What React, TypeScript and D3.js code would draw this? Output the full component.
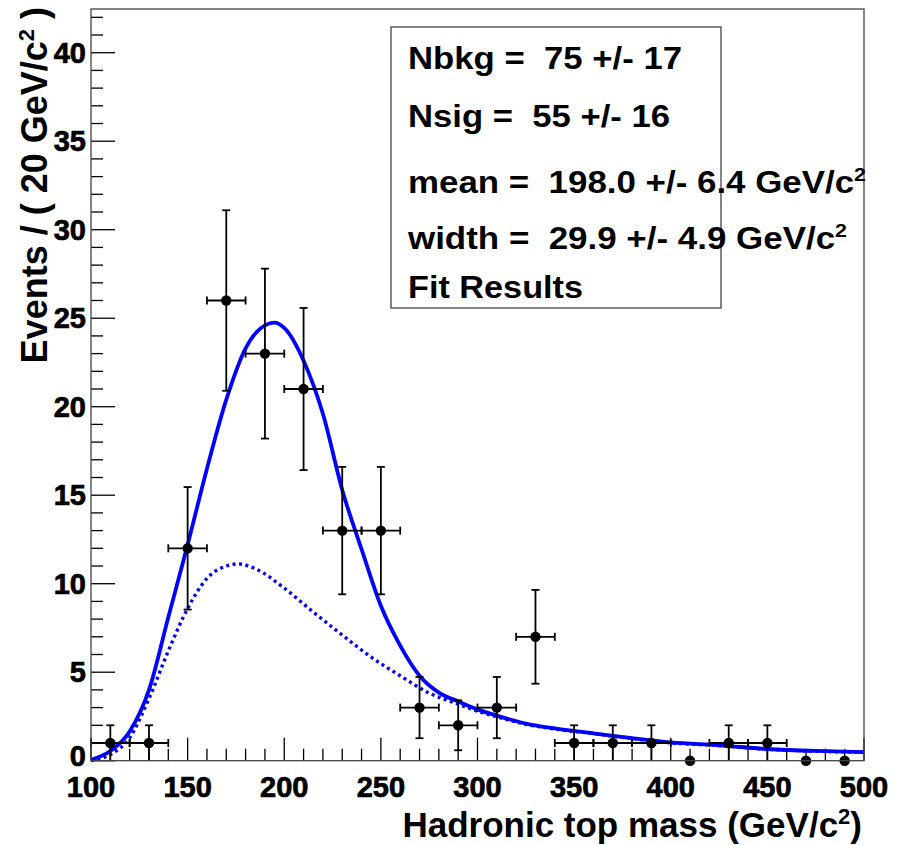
import * as d3 from 'd3'

// binned data: bin centres, entries and sqrt(N) errors
const binCenters = [110, 130, 150, 170, 190, 210, 230, 250, 270, 290, 310, 330, 350, 370, 390, 410, 430, 450, 470, 490]
const counts = [1, 1, 12, 26, 23, 21, 13, 13, 3, 2, 3, 7, 1, 1, 1, 0, 1, 1, 0, 0]
const errors = [1, 1, 3.46, 5.1, 4.8, 4.58, 3.6, 3.6, 1.73, 1.41, 1.73, 2.65, 1, 1, 1, 0, 1, 1, 0, 0]
const binHalf = 10

// total fit (solid)
const totalX = [100, 110, 120, 130, 140, 150, 160, 170, 180, 190, 195, 200, 210, 220, 230, 240, 250, 260, 270, 280, 290, 300, 310, 325, 340, 360, 380, 400, 425, 450, 475, 500]
const totalY = [0.05, 0.55, 1.65, 4.0, 8.1, 12.2, 16.5, 20.4, 23.3, 24.6, 24.75, 24.45, 22.6, 19.6, 15.3, 11.95, 8.75, 6.5, 4.8, 3.85, 3.35, 2.9, 2.55, 2.1, 1.82, 1.55, 1.27, 1.03, 0.87, 0.66, 0.55, 0.49]

// background component (dotted)
const bkgX = [100, 110, 120, 130, 140, 150, 160, 170, 176, 185, 200, 215, 230, 245, 260, 275, 290, 300, 310, 325, 340, 360, 380, 400, 425, 450, 475, 500]
const bkgY = [0.0, 0.35, 1.3, 3.5, 6.2, 8.6, 10.3, 11.0, 11.12, 10.85, 9.75, 8.4, 7.1, 5.85, 4.8, 3.82, 3.2, 2.8, 2.48, 2.06, 1.79, 1.53, 1.25, 1.01, 0.86, 0.65, 0.54, 0.48]

const xTicks = [100, 150, 200, 250, 300, 350, 400, 450, 500]
const yTicks = [0, 5, 10, 15, 20, 25, 30, 35, 40]

const fitLines = [
  { label: 'Nbkg =  75 +/- 17', sup: '', len: 274 },
  { label: 'Nsig =  55 +/- 16', sup: '', len: 262 },
  { label: 'mean =  198.0 +/- 6.4 GeV/c', sup: '2', len: 458 },
  { label: 'width =  29.9 +/- 4.9 GeV/c', sup: '2', len: 439 },
  { label: 'Fit Results', sup: '', len: 175 },
]
const fitBaselines = [69, 127, 193, 249, 298]

const W = 908
const H = 845
const margin = { left: 91, right: 44, top: 9, bottom: 84.3 }
const font = '"Liberation Sans", Arial, Helvetica, sans-serif'

export default function App() {
  const x = d3.scaleLinear().domain([100, 500]).range([margin.left, W - margin.right])
  const y = d3.scaleLinear().domain([0, 42.47]).range([H - margin.bottom, margin.top])

  const line = d3.line<[number, number]>()
    .x(d => x(d[0]))
    .y(d => y(d[1]))
    .curve(d3.curveMonotoneX)

  const totalPath = line(totalX.map((v, i) => [v, totalY[i]]) as [number, number][]) || ''
  const bkgPath = line(bkgX.map((v, i) => [v, bkgY[i]]) as [number, number][]) || ''

  const x0 = x(100), x1 = x(500), y0 = y(0), yTop = margin.top

  const xMinor = d3.range(100, 501, 10)
  const yMinor = d3.range(0, 43, 1)

  return (
    <svg width={W} height={H} style={{ position: 'absolute', left: 0, top: 0, background: 'white' }} fontFamily={font}>
      <rect x={0} y={0} width={W} height={H} fill="white" />
      {/* ticks, drawn inside the frame */}
      <g stroke="black" strokeWidth={1.3}>
        {xMinor.map(v => (
          <line key={'xm' + v} x1={x(v)} x2={x(v)} y1={y0} y2={y0 - (v % 50 === 0 ? 23 : 12)} />
        ))}
        {yMinor.map(v => (
          <line key={'ym' + v} x1={x0} x2={x0 + (v % 5 === 0 ? 24 : 12)} y1={y(v)} y2={y(v)} />
        ))}
      </g>
      {/* fit curves */}
      <path d={bkgPath} fill="none" stroke="#0000ff" strokeWidth={3.4} strokeDasharray="3 3.5" />
      <path d={totalPath} fill="none" stroke="#0000ff" strokeWidth={3.8} />
      {/* data points */}
      <g stroke="black" strokeWidth={1.8}>
        {binCenters.map((c, i) => {
          const n = counts[i]
          const e = errors[i]
          const cx = x(c), cy = y(n)
          if (n === 0) return <circle key={c} cx={cx} cy={cy} r={5.2} fill="black" stroke="none" />
          return (
            <g key={c}>
              <line x1={x(c - binHalf)} x2={x(c + binHalf)} y1={cy} y2={cy} />
              <line x1={x(c - binHalf)} x2={x(c - binHalf)} y1={cy - 4} y2={cy + 4} />
              <line x1={x(c + binHalf)} x2={x(c + binHalf)} y1={cy - 4} y2={cy + 4} />
              <line x1={cx} x2={cx} y1={y(n - e)} y2={y(n + e)} />
              <line x1={cx - 4} x2={cx + 4} y1={y(n + e)} y2={y(n + e)} />
              {n - e > 0.05 && <line x1={cx - 4} x2={cx + 4} y1={y(n - e)} y2={y(n - e)} />}
              <circle cx={cx} cy={cy} r={5.2} fill="black" stroke="none" />
            </g>
          )
        })}
      </g>
      {/* frame */}
      <rect x={x0} y={yTop} width={x1 - x0} height={y0 - yTop} fill="none" stroke="#444" strokeWidth={1.3} />
      {/* tick labels */}
      <g fontWeight="bold" fontSize={29} fill="black" stroke="black" strokeWidth={0.7}>
        {xTicks.map(v => (
          <text key={'xl' + v} x={x(v)} y={797} textAnchor="middle">{v}</text>
        ))}
        {yTicks.map(v => (
          <text key={'yl' + v} x={86} y={y(v) + (v === 0 ? 5 : 10)} textAnchor="end">{v}</text>
        ))}
      </g>
      {/* axis titles */}
      <text x={862} y={837} textAnchor="end" fontWeight="bold" fontSize={35} style={{ whiteSpace: 'pre' }}>
        Hadronic top mass (GeV/c<tspan dy={-13} fontSize={22}>2</tspan><tspan dy={13}>)</tspan>
      </text>
      <text transform="translate(47,7) rotate(-90)" x={0} y={0} textAnchor="end" fontWeight="bold" fontSize={36} style={{ whiteSpace: 'pre' }}>
        Events / ( 20 GeV/c<tspan dy={-13} fontSize={22}>2</tspan><tspan dy={13}> )</tspan>
      </text>
      {/* fit results box */}
      <rect x={391} y={27} width={330} height={281} fill="none" stroke="#333" strokeWidth={1.2} />
      <g fontWeight="bold" fontSize={31} fill="black">
        {fitLines.map((l, i) => (
          <text key={i} x={408} y={fitBaselines[i]} textLength={l.len} lengthAdjust="spacingAndGlyphs" style={{ whiteSpace: 'pre' }}>
            {l.label}
            {l.sup && <tspan dy={-12} fontSize={19}>{l.sup}</tspan>}
          </text>
        ))}
      </g>
    </svg>
  )
}
